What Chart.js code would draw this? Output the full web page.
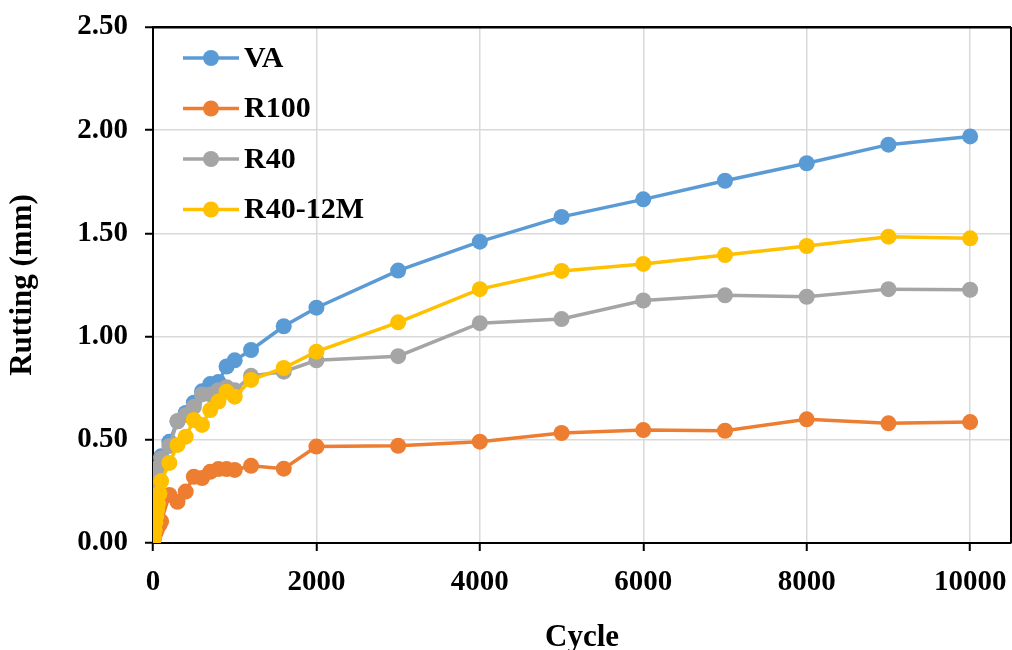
<!DOCTYPE html>
<html>
<head>
<meta charset="utf-8">
<title>Rutting vs cycle</title>
<script src="https://cdn.jsdelivr.net/npm/chart.js@4.4.0/dist/chart.umd.min.js"></script>
<style>
  html, body { margin: 0; padding: 0; background: #fff; overflow: hidden; }
  #wrap { width: 1012px; height: 650px; overflow: hidden; }
</style>
</head>
<body>
<div id="wrap"><canvas id="ruttingChart" width="1019" height="650"></canvas></div>
<script>
// load cycles and measured rut depth (mm) for each mix
const cycles = [0, 10, 20, 30, 40, 50, 60, 80, 100, 200, 300, 400, 500, 600, 700, 800, 900, 1000,
                1200, 1600, 2000, 3000, 4000, 5000, 6000, 7000, 8000, 9000, 10000];
const rutVA = [0, 0.12, 0.18, 0.22, 0.26, 0.29, 0.32, 0.37, 0.42, 0.49, 0.59, 0.63, 0.68, 0.735, 0.77, 0.78, 0.855, 0.885,
               0.935, 1.05, 1.14, 1.32, 1.46, 1.58, 1.665, 1.755, 1.84, 1.93, 1.97];
const rutR100 = [0, 0.02, 0.04, 0.05, 0.06, 0.07, 0.08, 0.09, 0.105, 0.233, 0.2, 0.249, 0.321, 0.315, 0.345, 0.358, 0.358, 0.354,
                 0.374, 0.36, 0.467, 0.471, 0.491, 0.533, 0.547, 0.544, 0.599, 0.58, 0.586];
const rutR40 = [0, 0.12, 0.18, 0.23, 0.27, 0.3, 0.33, 0.37, 0.41, 0.47, 0.59, 0.62, 0.66, 0.72, 0.72, 0.74, 0.755, 0.74,
                0.81, 0.83, 0.885, 0.905, 1.065, 1.085, 1.175, 1.2, 1.193, 1.23, 1.227];
const rutR4012M = [0, 0.03, 0.06, 0.1, 0.13, 0.16, 0.19, 0.24, 0.3, 0.388, 0.475, 0.515, 0.596, 0.572, 0.644, 0.685, 0.733, 0.709,
                   0.79, 0.848, 0.927, 1.069, 1.23, 1.318, 1.352, 1.395, 1.439, 1.484, 1.476];

const seriesNames = ["VA", "R100", "R40", "R40-12M"];
const seriesColors = ["#5B9BD5", "#ED7D31", "#A5A5A5", "#FFC000"];
const seriesValues = [rutVA, rutR100, rutR40, rutR4012M];
const xTickValues = [0, 2000, 4000, 6000, 8000, 10000];
const yTickStep = 0.5;

const serif = "'Liberation Serif', 'Times New Roman', serif";
Chart.defaults.font.family = serif;
Chart.defaults.font.weight = 'bold';
Chart.defaults.color = '#000';

// legend drawn inside the plot: short line with a dot, then the label
const lineLegend = {
    id: 'lineLegend',
    afterDatasetsDraw(chart) {
        const ctx = chart.ctx;
        const left = chart.chartArea.left;
        chart.data.datasets.forEach((ds, i) => {
            const y = 58 + i * 50.5;
            ctx.save();
            ctx.strokeStyle = ds.borderColor;
            ctx.lineWidth = 3.5;
            ctx.beginPath();
            ctx.moveTo(left + 30, y);
            ctx.lineTo(left + 86, y);
            ctx.stroke();
            ctx.fillStyle = ds.backgroundColor;
            ctx.beginPath();
            ctx.arc(left + 58, y, 8, 0, Math.PI * 2);
            ctx.fill();
            ctx.fillStyle = '#000';
            ctx.font = "bold 30px " + serif;
            ctx.textBaseline = 'middle';
            ctx.fillText(ds.label, left + 91, y + 1);
            ctx.restore();
        });
    }
};

// dark frame line on the right edge of the plot
const rightFrame = {
    id: 'rightFrame',
    afterDraw(chart) {
        const a = chart.chartArea;
        const ctx = chart.ctx;
        ctx.save();
        ctx.strokeStyle = '#000';
        ctx.lineWidth = 2;
        ctx.beginPath();
        ctx.moveTo(a.right, a.top);
        ctx.lineTo(a.right, a.bottom);
        ctx.stroke();
        ctx.restore();
    }
};

const datasets = seriesNames.map((name, i) => ({
    label: name,
    data: cycles.map((c, k) => ({ x: c, y: seriesValues[i][k] })),
    borderColor: seriesColors[i],
    backgroundColor: seriesColors[i],
    borderWidth: 3.5,
    pointRadius: 8,
    pointHoverRadius: 8,
    pointBorderWidth: 0,
    tension: 0,
    order: seriesNames.length - i
}));

new Chart(document.getElementById('ruttingChart'), {
    type: 'line',
    data: { datasets: datasets },
    options: {
        responsive: false,
        animation: false,
        layout: { padding: { top: 27, right: 0, bottom: 0, left: 0 } },
        plugins: {
            legend: { display: false },
            tooltip: { enabled: false }
        },
        scales: {
            x: {
                type: 'linear',
                min: 0,
                max: 10500,
                afterBuildTicks: (scale) => {
                    scale.ticks = xTickValues.map(v => ({ value: v }));
                },
                afterFit: (scale) => {
                    scale.height = 107;
                    scale.paddingLeft = 0;
                    scale.paddingRight = 0;
                },
                ticks: { padding: 14, font: { size: 29 }, maxRotation: 0, autoSkip: false, callback: v => String(v) },
                grid: { color: '#d9d9d9', lineWidth: 1.5, tickLength: 8, tickColor: '#000', tickWidth: 2 },
                border: { color: '#000', width: 2 },
                title: { display: true, text: 'Cycle', font: { size: 31 }, padding: { top: 0, bottom: -7 } }
            },
            y: {
                min: 0,
                max: 2.5,
                afterFit: (scale) => {
                    scale.width = 153;
                    scale.paddingTop = 0;
                    scale.paddingBottom = 0;
                },
                ticks: { stepSize: yTickStep, padding: 17, font: { size: 29 }, callback: v => v.toFixed(2) },
                grid: {
                    color: ctx => ctx.tick && ctx.tick.value === 2.5 ? '#000' : '#d9d9d9',
                    lineWidth: ctx => ctx.tick && ctx.tick.value === 2.5 ? 2.5 : 1.5,
                    tickLength: 8, tickColor: '#000', tickWidth: 2
                },
                border: { color: '#000', width: 2 },
                title: { display: true, text: 'Rutting (mm)', font: { size: 31 }, padding: { top: 4, bottom: 0 } }
            }
        }
    },
    plugins: [lineLegend, rightFrame]
});
</script>
</body>
</html>
